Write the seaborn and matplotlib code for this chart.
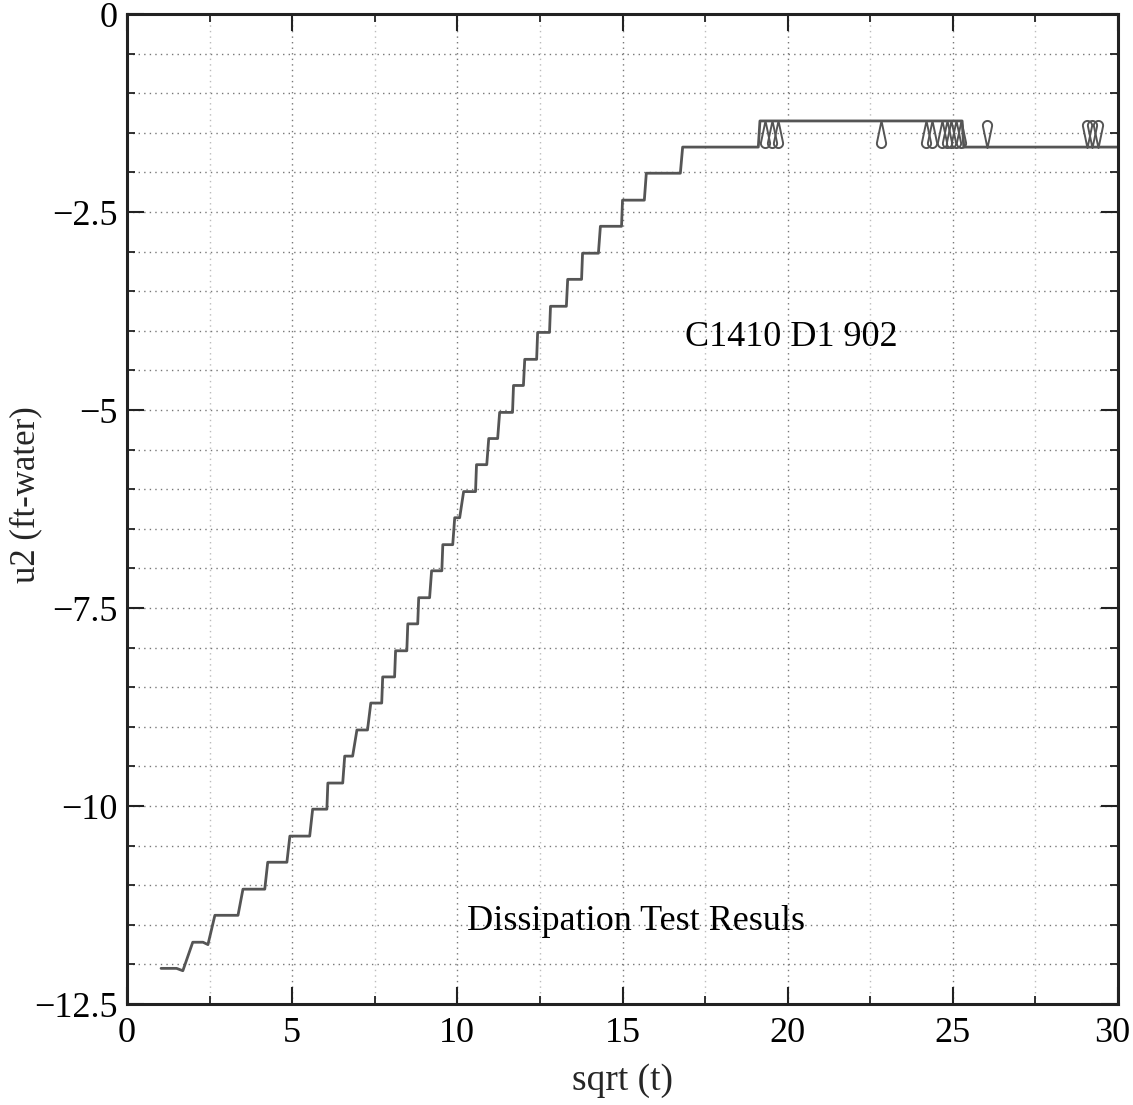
import numpy as np
import pandas as pd
import matplotlib
matplotlib.use("Agg")
import matplotlib.pyplot as plt
from matplotlib.path import Path
from matplotlib.ticker import MultipleLocator
from matplotlib.transforms import ScaledTranslation
import seaborn as sns

# ---------------- data ----------------
sqrt_t = [1.03, 1.50, 1.69,
          1.99, 2.30, 2.45,
          2.66, 3.36,
          3.51, 4.17,
          4.26, 4.84,
          4.93, 5.53,
          5.62, 6.05,
          6.08, 6.53,
          6.59, 6.83,
          6.96, 7.28,
          7.38, 7.71,
          7.74, 8.10,
          8.13, 8.47,
          8.50, 8.80,
          8.83, 9.16,
          9.22, 9.53,
          9.56, 9.86,
          9.92, 10.07,
          10.19, 10.55,
          10.58, 10.89,
          10.95, 11.22,
          11.28, 11.67,
          11.70, 12.00,
          12.04, 12.40,
          12.43, 12.79,
          12.82, 13.30,
          13.34, 13.76,
          13.79, 14.27,
          14.33, 14.97,
          15.00, 15.66,
          15.72, 16.75,
          16.82, 19.11,
          19.16, 25.28,
          25.33, 30.5]
u2 = [-12.05, -12.05, -12.08,
      -11.72, -11.72, -11.75,
      -11.38, -11.38,
      -11.05, -11.05,
      -10.71, -10.71,
      -10.38, -10.38,
      -10.04, -10.04,
      -9.71, -9.71,
      -9.37, -9.37,
      -9.04, -9.04,
      -8.70, -8.70,
      -8.37, -8.37,
      -8.04, -8.04,
      -7.70, -7.70,
      -7.37, -7.37,
      -7.03, -7.03,
      -6.70, -6.70,
      -6.36, -6.36,
      -6.03, -6.03,
      -5.69, -5.69,
      -5.36, -5.36,
      -5.03, -5.03,
      -4.69, -4.69,
      -4.36, -4.36,
      -4.02, -4.02,
      -3.69, -3.69,
      -3.35, -3.35,
      -3.02, -3.02,
      -2.68, -2.68,
      -2.35, -2.35,
      -2.01, -2.01,
      -1.68, -1.68,
      -1.35, -1.35,
      -1.68, -1.68]

# short glitches between the two top levels
glitch_high = -1.35
glitch_low = -1.68
glitch_down_x = [19.31, 19.53, 19.72, 22.83, 24.18, 24.36, 24.67, 24.81, 24.95, 25.09, 25.24]
glitch_up_x = [26.04, 29.07, 29.22, 29.39]

x_ticks = [0, 5, 10, 15, 20, 25, 30]
x_tick_labels = ["0", "5", "10", "15", "20", "25", "30"]
y_ticks = [0, -2.5, -5, -7.5, -10, -12.5]
y_tick_labels = ["0", "\u22122.5", "\u22125", "\u22127.5", "\u221210", "\u221212.5"]

x_label = "sqrt (t)"
y_label = "u2 (ft-water)"
note_id = "C1410 D1 902"
note_title = "Dissipation Test Resuls"

# ---------------- style ----------------
sns.set_theme(style="ticks")
plt.rcParams["font.family"] = ["Liberation Serif", "DejaVu Serif"]
plt.rcParams["axes.unicode_minus"] = True

LINE = "#555555"
FS = 26

fig = plt.figure(figsize=(11.33, 11.05), dpi=100)
ax = fig.add_axes([0.1121, 0.0914, 0.8747, 0.8959])

df = pd.DataFrame({"sqrt_t": sqrt_t, "u2": u2})
sns.lineplot(data=df, x="sqrt_t", y="u2", sort=False, estimator=None,
             color=LINE, linewidth=2.0, ax=ax)

# teardrop marker shape (style only)
r = 0.17
cy = -0.5 + r
d = 0.5 - cy
a = np.arccos(r / d)
theta = np.linspace(np.pi / 2 - a, np.pi / 2 + a - 2 * np.pi, 60)
verts = [(0.0, 0.5)] + [(r * np.cos(t), cy + r * np.sin(t)) for t in theta] + [(0.0, 0.5)]
codes = [Path.MOVETO] + [Path.LINETO] * (len(verts) - 2) + [Path.CLOSEPOLY]
drop_down = Path(verts, codes)
drop_up = Path([(vx, -vy) for vx, vy in verts], codes)

mid = (glitch_high + glitch_low) / 2
msize = 19.5
ax.plot(glitch_down_x, [mid] * len(glitch_down_x), linestyle="none",
        marker=drop_down, markersize=msize, markerfacecolor="none",
        markeredgecolor=LINE, markeredgewidth=1.4)
ax.plot(glitch_up_x, [mid] * len(glitch_up_x), linestyle="none",
        marker=drop_up, markersize=msize, markerfacecolor="none",
        markeredgecolor=LINE, markeredgewidth=1.4)

ax.set_xlim(0, 30)
ax.set_ylim(-12.5, 0)
ax.set_xticks(x_ticks)
ax.set_xticklabels(x_tick_labels)
ax.set_yticks(y_ticks)
ax.set_yticklabels(y_tick_labels)
ax.xaxis.set_minor_locator(MultipleLocator(2.5))
ax.yaxis.set_minor_locator(MultipleLocator(0.5))

ax.grid(which="major", axis="both", linestyle=(0, (1, 3)), color="#777777", linewidth=1.0)
ax.grid(which="minor", axis="y", linestyle=(0, (1, 3)), color="#777777", linewidth=1.0)
ax.grid(which="minor", axis="x", linestyle=(0, (1, 3)), color="#bbbbbb", linewidth=1.0)
ax.set_axisbelow(True)

ax.tick_params(which="both", direction="in", top=True, right=True,
               colors="#222222", labelcolor="black")
ax.tick_params(which="major", length=12, width=1.5, labelsize=FS, pad=9)
ax.tick_params(which="minor", length=5.5, width=1.3)
ax.tick_params(axis="y", which="major", pad=7)

for s in ax.spines.values():
    s.set_visible(True)
    s.set_color("#222222")
    s.set_linewidth(2.2)

ax.set_xlabel(x_label, fontsize=FS + 1, labelpad=10)
ax.set_ylabel(y_label, fontsize=25)
ax.yaxis.set_label_coords(-0.085, 0.515)

# nudge the last x tick label so it stays inside the canvas
last = ax.get_xticklabels()[-1]
last.set_transform(last.get_transform() + ScaledTranslation(-4 / 72, 0, fig.dpi_scale_trans))

ax.text(20.1, -4.09, note_id, fontsize=FS, ha="center", va="center", color="black")
ax.text(15.4, -11.46, note_title, fontsize=FS, ha="center", va="center", color="black")

fig.savefig("out.png", dpi=100)
